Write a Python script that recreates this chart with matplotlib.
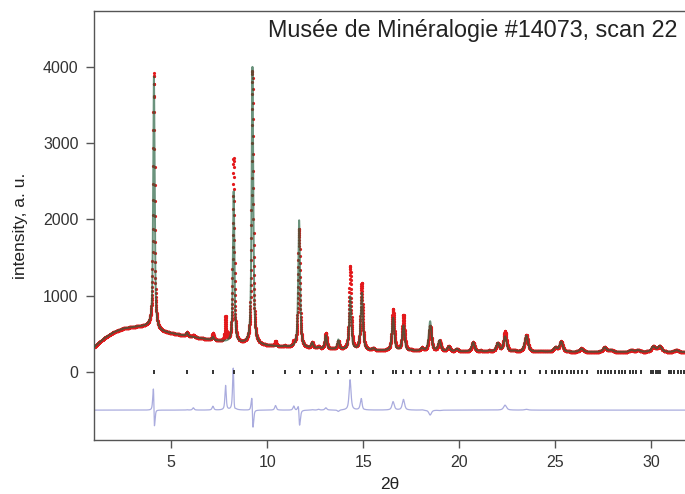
import numpy as np
import matplotlib
matplotlib.use("Agg")
import matplotlib.pyplot as plt

plt.rcParams['font.family'] = ['Liberation Sans', 'DejaVu Sans']

# ---- data ----
# background control points (2theta, intensity)
bg_x = [1.0, 1.5, 2.0, 2.5, 3.0, 3.5, 3.9, 4.1, 4.5, 5.0, 6.0, 7.0, 8.0, 9.0, 10.0,
        11.0, 12.0, 13.0, 14.0, 15.0, 17.0, 20.0, 25.0, 32.0]
bg_y = [330, 440, 520, 568, 588, 596, 598, 570, 528, 505, 462, 422, 388, 362, 342,
        326, 312, 300, 290, 282, 274, 266, 262, 260]

# reflections: position, calculated / observed heights above background, FWHM, obs shift
peak_pos = [4.10, 5.82, 6.15, 7.17, 7.83, 8.25, 9.23, 10.43, 10.91, 11.38, 11.66, 12.34,
            12.67, 13.05, 13.70, 14.32, 14.92, 15.52, 16.55, 17.09, 17.50, 18.05, 18.48,
            18.97, 19.45, 19.87, 20.72, 21.12, 21.55, 22.00, 22.38, 22.87, 23.49, 24.26,
            25.00, 25.30, 26.35, 27.57, 27.90, 28.96, 29.30, 30.10, 30.43, 31.30]
calc_h = [3300, 45, 0, 40, 0, 1980, 3640, 0, 10, 0, 1670, 70,
          15, 175, 125, 700, 750, 25, 430, 330, 10, 35, 390,
          140, 63, 33, 122, 10, 10, 110, 197, 10, 210, 10,
          55, 133, 45, 60, 25, 25, 25, 70, 75, 25]
obs_h = [3350, 50, 30, 90, 320, 2420, 3590, 60, 10, 55, 1560, 75,
         25, 205, 105, 1094, 880, 25, 540, 470, 10, 40, 325,
         135, 63, 33, 122, 10, 10, 110, 262, 10, 220, 10,
         55, 133, 45, 60, 25, 25, 25, 70, 75, 25]
fwhm = [0.09, 0.10, 0.10, 0.10, 0.08, 0.09, 0.10, 0.10, 0.11, 0.10, 0.11, 0.12,
        0.12, 0.12, 0.12, 0.12, 0.13, 0.13, 0.14, 0.14, 0.15, 0.15, 0.16,
        0.16, 0.16, 0.17, 0.17, 0.18, 0.18, 0.18, 0.18, 0.19, 0.20, 0.20,
        0.20, 0.20, 0.21, 0.22, 0.22, 0.23, 0.23, 0.24, 0.24, 0.25]
obs_shift = [-0.005, 0, 0, 0, 0, -0.006, -0.004, 0, 0, 0, -0.006, 0,
             0, 0, 0, -0.003, -0.005, 0, 0, 0, 0, 0, 0,
             0, 0, 0, 0, 0, 0, 0, 0, 0, 0, 0,
             0, 0, 0, 0, 0, 0, 0, 0, 0, 0]

# reflection tick positions
hkl_pos = [4.08, 5.82, 7.17, 8.25, 9.24, 10.91, 11.68, 12.34, 13.04, 13.70, 14.31, 14.90,
           15.51, 16.54, 16.69, 17.07, 17.50, 17.95, 18.48, 18.95, 19.43, 19.88, 20.31,
           20.72, 20.84, 21.16, 21.62, 21.90, 21.98, 22.35, 22.70, 23.18, 23.42,
           24.22, 24.52, 24.82, 25.00, 25.18, 25.32, 25.62, 25.80, 25.98, 26.20, 26.38,
           26.66, 27.22, 27.39, 27.58, 27.74, 27.91, 28.12, 28.29, 28.47, 28.64, 28.87,
           29.04, 29.22, 29.48, 29.98, 30.10, 30.22, 30.36, 30.47, 30.90, 31.04, 31.20,
           31.36, 31.52, 31.68]

diff_offset = -500
step = 0.005

# ---- build pattern ----
x = np.arange(1.0, 32.0, step)
bg = np.interp(x, bg_x, bg_y)


def pv(xx, x0, h, w, eta=0.7):
    lor = 1.0 / (1.0 + 4.0 * ((xx - x0) / w) ** 2)
    gau = np.exp(-4.0 * np.log(2) * ((xx - x0) / w) ** 2)
    return h * (eta * lor + (1 - eta) * gau)


calc = bg.copy()
obs = bg.copy()
for p, hc, ho, w, s in zip(peak_pos, calc_h, obs_h, fwhm, obs_shift):
    calc += pv(x, p, hc, w)
    obs += pv(x, p + s, ho, w)
diff = obs - calc + diff_offset

# ---- figure ----
fig = plt.figure(figsize=(6.85, 4.94), dpi=100)
ax = fig.add_axes([94 / 685, 1 - 440 / 494, 1 - 94 / 685 + 0.002, (440 - 11) / 494])

ax.plot(x, obs, 'o', ms=2.3, mec='none', mfc='#e3191c', zorder=2)
ax.plot(x, calc, '-', color='#25603f', lw=1.4, alpha=0.68, zorder=3)
ax.plot(x, diff, '-', color='#aaacde', lw=0.9, zorder=2)
ax.plot(hkl_pos, np.zeros(len(hkl_pos)), '|', ms=2.8, mew=1.3, color='#222222', zorder=2)

ax.set_xlim(0.98, 31.82)
ax.set_ylim(-892, 4734)
ax.set_xticks([5, 10, 15, 20, 25, 30])
ax.set_yticks([0, 1000, 2000, 3000, 4000])

for side in ['top', 'left', 'bottom']:
    ax.spines[side].set_color('#555555')
    ax.spines[side].set_linewidth(1.0)
ax.spines['right'].set_visible(False)
ax.tick_params(direction='out', length=6, width=1, color='#555555',
               labelsize=11.5, labelcolor='#333333', pad=5)

ax.set_ylabel('intensity, a. u.', fontsize=12.5, color='#222222', labelpad=11)
ax.set_xlabel('2θ', fontsize=12.5, color='#222222', labelpad=5)

ax.text(0.985, 0.955, 'Musée de Minéralogie #14073, scan 22', transform=ax.transAxes,
        ha='right', va='center', fontsize=16.8, color='#222222')

fig.savefig('out.png', dpi=100)
